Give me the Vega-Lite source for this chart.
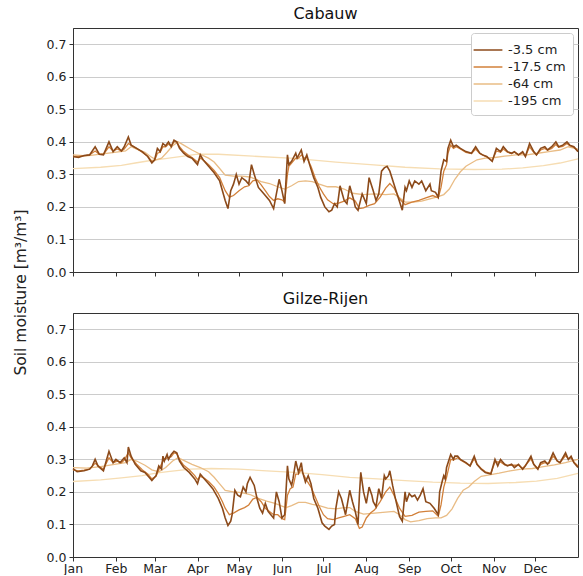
{
  "$schema": "https://vega.github.io/schema/vega-lite/v6.json",
  "autosize": {"type": "pad"},
  "padding": {"left": 12, "top": 5, "right": 5, "bottom": 0},
  "config": {
    "font": "DejaVu Sans",
    "view": {"stroke": "#333333", "strokeWidth": 1},
    "axis": {
      "labelFont": "DejaVu Sans", "labelFontSize": 12.5, "labelColor": "#222222", "labelFlush": false,
      "tickColor": "#333333", "domainColor": "#333333", "tickSize": 4, "labelPadding": 3,
      "titleFont": "DejaVu Sans", "titleFontWeight": "normal", "titleColor": "#222222"
    },
    "axisX": {"labelPadding": 1},
    "axisY": {"gridColor": "#cccccc", "gridWidth": 1},
    "title": {"font": "DejaVu Sans", "fontSize": 16, "fontWeight": "normal", "color": "#111111", "offset": 6},
    "legend": {
      "orient": "top-right", "offset": 5, "fillColor": "#ffffff", "strokeColor": "#cccccc",
      "cornerRadius": 3, "padding": 7, "labelFont": "DejaVu Sans", "labelFontSize": 13,
      "labelColor": "#222222", "symbolType": "M-1.6,0H1.6", "symbolSize": 324,
      "symbolStrokeWidth": 1.5, "rowPadding": 0, "labelOffset": 10
    }
  },
  "datasets": {
    "cabauw": [
      {"depth":"-3.5 cm","day":0,"sm":0.355},{"depth":"-3.5 cm","day":4,"sm":0.352},{"depth":"-3.5 cm","day":8,"sm":0.358},{"depth":"-3.5 cm","day":12,"sm":0.36},{"depth":"-3.5 cm","day":16,"sm":0.385},{"depth":"-3.5 cm","day":19,"sm":0.362},{"depth":"-3.5 cm","day":22,"sm":0.36},{"depth":"-3.5 cm","day":26,"sm":0.4},{"depth":"-3.5 cm","day":29,"sm":0.37},{"depth":"-3.5 cm","day":32,"sm":0.385},{"depth":"-3.5 cm","day":35,"sm":0.372},{"depth":"-3.5 cm","day":37,"sm":0.385},{"depth":"-3.5 cm","day":40,"sm":0.415},{"depth":"-3.5 cm","day":42,"sm":0.39},{"depth":"-3.5 cm","day":46,"sm":0.38},{"depth":"-3.5 cm","day":50,"sm":0.37},{"depth":"-3.5 cm","day":54,"sm":0.355},{"depth":"-3.5 cm","day":57,"sm":0.335},{"depth":"-3.5 cm","day":59,"sm":0.345},{"depth":"-3.5 cm","day":61,"sm":0.38},{"depth":"-3.5 cm","day":63,"sm":0.37},{"depth":"-3.5 cm","day":65,"sm":0.395},{"depth":"-3.5 cm","day":67,"sm":0.388},{"depth":"-3.5 cm","day":69,"sm":0.4},{"depth":"-3.5 cm","day":71,"sm":0.385},{"depth":"-3.5 cm","day":73,"sm":0.405},{"depth":"-3.5 cm","day":75,"sm":0.4},{"depth":"-3.5 cm","day":77,"sm":0.38},{"depth":"-3.5 cm","day":80,"sm":0.365},{"depth":"-3.5 cm","day":83,"sm":0.355},{"depth":"-3.5 cm","day":86,"sm":0.35},{"depth":"-3.5 cm","day":88,"sm":0.34},{"depth":"-3.5 cm","day":90,"sm":0.33},{"depth":"-3.5 cm","day":92,"sm":0.36},{"depth":"-3.5 cm","day":94,"sm":0.345},{"depth":"-3.5 cm","day":98,"sm":0.325},{"depth":"-3.5 cm","day":102,"sm":0.305},{"depth":"-3.5 cm","day":106,"sm":0.28},{"depth":"-3.5 cm","day":108,"sm":0.25},{"depth":"-3.5 cm","day":110,"sm":0.22},{"depth":"-3.5 cm","day":112,"sm":0.195},{"depth":"-3.5 cm","day":114,"sm":0.25},{"depth":"-3.5 cm","day":116,"sm":0.27},{"depth":"-3.5 cm","day":118,"sm":0.3},{"depth":"-3.5 cm","day":120,"sm":0.27},{"depth":"-3.5 cm","day":122,"sm":0.29},{"depth":"-3.5 cm","day":125,"sm":0.28},{"depth":"-3.5 cm","day":127,"sm":0.27},{"depth":"-3.5 cm","day":129,"sm":0.33},{"depth":"-3.5 cm","day":131,"sm":0.3},{"depth":"-3.5 cm","day":134,"sm":0.26},{"depth":"-3.5 cm","day":137,"sm":0.245},{"depth":"-3.5 cm","day":139,"sm":0.235},{"depth":"-3.5 cm","day":142,"sm":0.22},{"depth":"-3.5 cm","day":145,"sm":0.195},{"depth":"-3.5 cm","day":147,"sm":0.24},{"depth":"-3.5 cm","day":149,"sm":0.285},{"depth":"-3.5 cm","day":151,"sm":0.25},{"depth":"-3.5 cm","day":153,"sm":0.21},{"depth":"-3.5 cm","day":155,"sm":0.36},{"depth":"-3.5 cm","day":156,"sm":0.33},{"depth":"-3.5 cm","day":158,"sm":0.34},{"depth":"-3.5 cm","day":161,"sm":0.365},{"depth":"-3.5 cm","day":162,"sm":0.35},{"depth":"-3.5 cm","day":165,"sm":0.375},{"depth":"-3.5 cm","day":167,"sm":0.34},{"depth":"-3.5 cm","day":169,"sm":0.36},{"depth":"-3.5 cm","day":171,"sm":0.33},{"depth":"-3.5 cm","day":174,"sm":0.29},{"depth":"-3.5 cm","day":177,"sm":0.26},{"depth":"-3.5 cm","day":179,"sm":0.23},{"depth":"-3.5 cm","day":182,"sm":0.2},{"depth":"-3.5 cm","day":185,"sm":0.185},{"depth":"-3.5 cm","day":187,"sm":0.19},{"depth":"-3.5 cm","day":189,"sm":0.21},{"depth":"-3.5 cm","day":191,"sm":0.2},{"depth":"-3.5 cm","day":193,"sm":0.265},{"depth":"-3.5 cm","day":196,"sm":0.22},{"depth":"-3.5 cm","day":198,"sm":0.21},{"depth":"-3.5 cm","day":200,"sm":0.265},{"depth":"-3.5 cm","day":203,"sm":0.22},{"depth":"-3.5 cm","day":204,"sm":0.2},{"depth":"-3.5 cm","day":206,"sm":0.19},{"depth":"-3.5 cm","day":209,"sm":0.24},{"depth":"-3.5 cm","day":212,"sm":0.21},{"depth":"-3.5 cm","day":214,"sm":0.29},{"depth":"-3.5 cm","day":217,"sm":0.25},{"depth":"-3.5 cm","day":219,"sm":0.22},{"depth":"-3.5 cm","day":221,"sm":0.24},{"depth":"-3.5 cm","day":223,"sm":0.31},{"depth":"-3.5 cm","day":225,"sm":0.32},{"depth":"-3.5 cm","day":227,"sm":0.325},{"depth":"-3.5 cm","day":229,"sm":0.31},{"depth":"-3.5 cm","day":232,"sm":0.27},{"depth":"-3.5 cm","day":235,"sm":0.23},{"depth":"-3.5 cm","day":238,"sm":0.19},{"depth":"-3.5 cm","day":240,"sm":0.26},{"depth":"-3.5 cm","day":241,"sm":0.25},{"depth":"-3.5 cm","day":243,"sm":0.28},{"depth":"-3.5 cm","day":245,"sm":0.26},{"depth":"-3.5 cm","day":247,"sm":0.28},{"depth":"-3.5 cm","day":250,"sm":0.27},{"depth":"-3.5 cm","day":252,"sm":0.28},{"depth":"-3.5 cm","day":255,"sm":0.25},{"depth":"-3.5 cm","day":258,"sm":0.27},{"depth":"-3.5 cm","day":259,"sm":0.25},{"depth":"-3.5 cm","day":262,"sm":0.245},{"depth":"-3.5 cm","day":264,"sm":0.23},{"depth":"-3.5 cm","day":266,"sm":0.31},{"depth":"-3.5 cm","day":268,"sm":0.345},{"depth":"-3.5 cm","day":270,"sm":0.34},{"depth":"-3.5 cm","day":271,"sm":0.38},{"depth":"-3.5 cm","day":273,"sm":0.405},{"depth":"-3.5 cm","day":275,"sm":0.385},{"depth":"-3.5 cm","day":277,"sm":0.39},{"depth":"-3.5 cm","day":280,"sm":0.38},{"depth":"-3.5 cm","day":284,"sm":0.37},{"depth":"-3.5 cm","day":288,"sm":0.365},{"depth":"-3.5 cm","day":291,"sm":0.385},{"depth":"-3.5 cm","day":294,"sm":0.365},{"depth":"-3.5 cm","day":296,"sm":0.36},{"depth":"-3.5 cm","day":299,"sm":0.355},{"depth":"-3.5 cm","day":303,"sm":0.34},{"depth":"-3.5 cm","day":306,"sm":0.38},{"depth":"-3.5 cm","day":309,"sm":0.37},{"depth":"-3.5 cm","day":311,"sm":0.385},{"depth":"-3.5 cm","day":314,"sm":0.37},{"depth":"-3.5 cm","day":317,"sm":0.365},{"depth":"-3.5 cm","day":319,"sm":0.37},{"depth":"-3.5 cm","day":322,"sm":0.36},{"depth":"-3.5 cm","day":325,"sm":0.37},{"depth":"-3.5 cm","day":327,"sm":0.355},{"depth":"-3.5 cm","day":330,"sm":0.395},{"depth":"-3.5 cm","day":333,"sm":0.37},{"depth":"-3.5 cm","day":335,"sm":0.36},{"depth":"-3.5 cm","day":338,"sm":0.38},{"depth":"-3.5 cm","day":341,"sm":0.385},{"depth":"-3.5 cm","day":343,"sm":0.375},{"depth":"-3.5 cm","day":346,"sm":0.385},{"depth":"-3.5 cm","day":349,"sm":0.4},{"depth":"-3.5 cm","day":351,"sm":0.385},{"depth":"-3.5 cm","day":354,"sm":0.39},{"depth":"-3.5 cm","day":357,"sm":0.4},{"depth":"-3.5 cm","day":359,"sm":0.39},{"depth":"-3.5 cm","day":362,"sm":0.385},{"depth":"-3.5 cm","day":365,"sm":0.37},
      {"depth":"-17.5 cm","day":0,"sm":0.355},{"depth":"-17.5 cm","day":4,"sm":0.355},{"depth":"-17.5 cm","day":8,"sm":0.357},{"depth":"-17.5 cm","day":12,"sm":0.36},{"depth":"-17.5 cm","day":16,"sm":0.372},{"depth":"-17.5 cm","day":19,"sm":0.362},{"depth":"-17.5 cm","day":22,"sm":0.362},{"depth":"-17.5 cm","day":26,"sm":0.385},{"depth":"-17.5 cm","day":29,"sm":0.372},{"depth":"-17.5 cm","day":32,"sm":0.378},{"depth":"-17.5 cm","day":35,"sm":0.372},{"depth":"-17.5 cm","day":37,"sm":0.378},{"depth":"-17.5 cm","day":40,"sm":0.395},{"depth":"-17.5 cm","day":42,"sm":0.39},{"depth":"-17.5 cm","day":46,"sm":0.38},{"depth":"-17.5 cm","day":50,"sm":0.368},{"depth":"-17.5 cm","day":54,"sm":0.356},{"depth":"-17.5 cm","day":57,"sm":0.34},{"depth":"-17.5 cm","day":59,"sm":0.343},{"depth":"-17.5 cm","day":61,"sm":0.365},{"depth":"-17.5 cm","day":63,"sm":0.368},{"depth":"-17.5 cm","day":65,"sm":0.385},{"depth":"-17.5 cm","day":67,"sm":0.385},{"depth":"-17.5 cm","day":69,"sm":0.393},{"depth":"-17.5 cm","day":71,"sm":0.388},{"depth":"-17.5 cm","day":73,"sm":0.4},{"depth":"-17.5 cm","day":75,"sm":0.4},{"depth":"-17.5 cm","day":77,"sm":0.385},{"depth":"-17.5 cm","day":80,"sm":0.37},{"depth":"-17.5 cm","day":83,"sm":0.36},{"depth":"-17.5 cm","day":86,"sm":0.352},{"depth":"-17.5 cm","day":88,"sm":0.345},{"depth":"-17.5 cm","day":90,"sm":0.338},{"depth":"-17.5 cm","day":92,"sm":0.35},{"depth":"-17.5 cm","day":94,"sm":0.345},{"depth":"-17.5 cm","day":98,"sm":0.33},{"depth":"-17.5 cm","day":102,"sm":0.312},{"depth":"-17.5 cm","day":106,"sm":0.29},{"depth":"-17.5 cm","day":108,"sm":0.27},{"depth":"-17.5 cm","day":110,"sm":0.25},{"depth":"-17.5 cm","day":113,"sm":0.23},{"depth":"-17.5 cm","day":116,"sm":0.235},{"depth":"-17.5 cm","day":120,"sm":0.25},{"depth":"-17.5 cm","day":124,"sm":0.262},{"depth":"-17.5 cm","day":127,"sm":0.265},{"depth":"-17.5 cm","day":130,"sm":0.28},{"depth":"-17.5 cm","day":133,"sm":0.283},{"depth":"-17.5 cm","day":136,"sm":0.268},{"depth":"-17.5 cm","day":139,"sm":0.25},{"depth":"-17.5 cm","day":142,"sm":0.232},{"depth":"-17.5 cm","day":145,"sm":0.22},{"depth":"-17.5 cm","day":148,"sm":0.225},{"depth":"-17.5 cm","day":151,"sm":0.222},{"depth":"-17.5 cm","day":153,"sm":0.215},{"depth":"-17.5 cm","day":155,"sm":0.3},{"depth":"-17.5 cm","day":156,"sm":0.325},{"depth":"-17.5 cm","day":158,"sm":0.335},{"depth":"-17.5 cm","day":161,"sm":0.35},{"depth":"-17.5 cm","day":163,"sm":0.35},{"depth":"-17.5 cm","day":165,"sm":0.36},{"depth":"-17.5 cm","day":167,"sm":0.35},{"depth":"-17.5 cm","day":169,"sm":0.352},{"depth":"-17.5 cm","day":172,"sm":0.325},{"depth":"-17.5 cm","day":175,"sm":0.29},{"depth":"-17.5 cm","day":178,"sm":0.262},{"depth":"-17.5 cm","day":181,"sm":0.24},{"depth":"-17.5 cm","day":184,"sm":0.222},{"depth":"-17.5 cm","day":188,"sm":0.21},{"depth":"-17.5 cm","day":192,"sm":0.212},{"depth":"-17.5 cm","day":196,"sm":0.218},{"depth":"-17.5 cm","day":200,"sm":0.228},{"depth":"-17.5 cm","day":204,"sm":0.218},{"depth":"-17.5 cm","day":207,"sm":0.195},{"depth":"-17.5 cm","day":210,"sm":0.197},{"depth":"-17.5 cm","day":214,"sm":0.205},{"depth":"-17.5 cm","day":218,"sm":0.21},{"depth":"-17.5 cm","day":222,"sm":0.23},{"depth":"-17.5 cm","day":226,"sm":0.258},{"depth":"-17.5 cm","day":229,"sm":0.272},{"depth":"-17.5 cm","day":232,"sm":0.258},{"depth":"-17.5 cm","day":236,"sm":0.225},{"depth":"-17.5 cm","day":240,"sm":0.207},{"depth":"-17.5 cm","day":245,"sm":0.215},{"depth":"-17.5 cm","day":250,"sm":0.22},{"depth":"-17.5 cm","day":255,"sm":0.228},{"depth":"-17.5 cm","day":260,"sm":0.235},{"depth":"-17.5 cm","day":264,"sm":0.228},{"depth":"-17.5 cm","day":266,"sm":0.26},{"depth":"-17.5 cm","day":268,"sm":0.31},{"depth":"-17.5 cm","day":270,"sm":0.33},{"depth":"-17.5 cm","day":271,"sm":0.365},{"depth":"-17.5 cm","day":273,"sm":0.39},{"depth":"-17.5 cm","day":275,"sm":0.38},{"depth":"-17.5 cm","day":277,"sm":0.385},{"depth":"-17.5 cm","day":280,"sm":0.378},{"depth":"-17.5 cm","day":284,"sm":0.368},{"depth":"-17.5 cm","day":288,"sm":0.364},{"depth":"-17.5 cm","day":291,"sm":0.378},{"depth":"-17.5 cm","day":294,"sm":0.364},{"depth":"-17.5 cm","day":296,"sm":0.36},{"depth":"-17.5 cm","day":299,"sm":0.354},{"depth":"-17.5 cm","day":303,"sm":0.342},{"depth":"-17.5 cm","day":306,"sm":0.372},{"depth":"-17.5 cm","day":309,"sm":0.368},{"depth":"-17.5 cm","day":311,"sm":0.378},{"depth":"-17.5 cm","day":314,"sm":0.368},{"depth":"-17.5 cm","day":317,"sm":0.364},{"depth":"-17.5 cm","day":319,"sm":0.368},{"depth":"-17.5 cm","day":322,"sm":0.36},{"depth":"-17.5 cm","day":325,"sm":0.366},{"depth":"-17.5 cm","day":327,"sm":0.356},{"depth":"-17.5 cm","day":330,"sm":0.385},{"depth":"-17.5 cm","day":333,"sm":0.368},{"depth":"-17.5 cm","day":335,"sm":0.36},{"depth":"-17.5 cm","day":338,"sm":0.375},{"depth":"-17.5 cm","day":341,"sm":0.38},{"depth":"-17.5 cm","day":343,"sm":0.374},{"depth":"-17.5 cm","day":346,"sm":0.38},{"depth":"-17.5 cm","day":349,"sm":0.392},{"depth":"-17.5 cm","day":351,"sm":0.383},{"depth":"-17.5 cm","day":354,"sm":0.386},{"depth":"-17.5 cm","day":357,"sm":0.395},{"depth":"-17.5 cm","day":359,"sm":0.388},{"depth":"-17.5 cm","day":362,"sm":0.383},{"depth":"-17.5 cm","day":365,"sm":0.372},
      {"depth":"-64 cm","day":0,"sm":0.36},{"depth":"-64 cm","day":10,"sm":0.357},{"depth":"-64 cm","day":20,"sm":0.362},{"depth":"-64 cm","day":30,"sm":0.368},{"depth":"-64 cm","day":38,"sm":0.372},{"depth":"-64 cm","day":42,"sm":0.385},{"depth":"-64 cm","day":46,"sm":0.378},{"depth":"-64 cm","day":52,"sm":0.368},{"depth":"-64 cm","day":56,"sm":0.355},{"depth":"-64 cm","day":60,"sm":0.345},{"depth":"-64 cm","day":64,"sm":0.35},{"depth":"-64 cm","day":68,"sm":0.368},{"depth":"-64 cm","day":72,"sm":0.388},{"depth":"-64 cm","day":76,"sm":0.4},{"depth":"-64 cm","day":80,"sm":0.39},{"depth":"-64 cm","day":86,"sm":0.375},{"depth":"-64 cm","day":92,"sm":0.362},{"depth":"-64 cm","day":98,"sm":0.35},{"depth":"-64 cm","day":102,"sm":0.338},{"depth":"-64 cm","day":106,"sm":0.318},{"depth":"-64 cm","day":110,"sm":0.298},{"depth":"-64 cm","day":116,"sm":0.295},{"depth":"-64 cm","day":122,"sm":0.295},{"depth":"-64 cm","day":128,"sm":0.292},{"depth":"-64 cm","day":132,"sm":0.285},{"depth":"-64 cm","day":136,"sm":0.278},{"depth":"-64 cm","day":142,"sm":0.272},{"depth":"-64 cm","day":148,"sm":0.262},{"depth":"-64 cm","day":153,"sm":0.255},{"depth":"-64 cm","day":158,"sm":0.265},{"depth":"-64 cm","day":163,"sm":0.278},{"depth":"-64 cm","day":168,"sm":0.28},{"depth":"-64 cm","day":173,"sm":0.278},{"depth":"-64 cm","day":178,"sm":0.27},{"depth":"-64 cm","day":184,"sm":0.262},{"depth":"-64 cm","day":190,"sm":0.262},{"depth":"-64 cm","day":196,"sm":0.255},{"depth":"-64 cm","day":202,"sm":0.242},{"depth":"-64 cm","day":210,"sm":0.238},{"depth":"-64 cm","day":218,"sm":0.24},{"depth":"-64 cm","day":226,"sm":0.238},{"depth":"-64 cm","day":232,"sm":0.24},{"depth":"-64 cm","day":236,"sm":0.228},{"depth":"-64 cm","day":240,"sm":0.215},{"depth":"-64 cm","day":246,"sm":0.215},{"depth":"-64 cm","day":252,"sm":0.218},{"depth":"-64 cm","day":258,"sm":0.225},{"depth":"-64 cm","day":264,"sm":0.232},{"depth":"-64 cm","day":268,"sm":0.238},{"depth":"-64 cm","day":272,"sm":0.255},{"depth":"-64 cm","day":276,"sm":0.285},{"depth":"-64 cm","day":280,"sm":0.308},{"depth":"-64 cm","day":284,"sm":0.325},{"depth":"-64 cm","day":288,"sm":0.335},{"depth":"-64 cm","day":292,"sm":0.345},{"depth":"-64 cm","day":298,"sm":0.35},{"depth":"-64 cm","day":305,"sm":0.352},{"depth":"-64 cm","day":312,"sm":0.356},{"depth":"-64 cm","day":320,"sm":0.36},{"depth":"-64 cm","day":328,"sm":0.36},{"depth":"-64 cm","day":336,"sm":0.365},{"depth":"-64 cm","day":344,"sm":0.37},{"depth":"-64 cm","day":352,"sm":0.375},{"depth":"-64 cm","day":358,"sm":0.385},{"depth":"-64 cm","day":365,"sm":0.378},
      {"depth":"-195 cm","day":0,"sm":0.318},{"depth":"-195 cm","day":20,"sm":0.322},{"depth":"-195 cm","day":35,"sm":0.328},{"depth":"-195 cm","day":45,"sm":0.335},{"depth":"-195 cm","day":55,"sm":0.342},{"depth":"-195 cm","day":68,"sm":0.349},{"depth":"-195 cm","day":80,"sm":0.356},{"depth":"-195 cm","day":90,"sm":0.362},{"depth":"-195 cm","day":105,"sm":0.362},{"depth":"-195 cm","day":130,"sm":0.356},{"depth":"-195 cm","day":160,"sm":0.349},{"depth":"-195 cm","day":190,"sm":0.338},{"depth":"-195 cm","day":215,"sm":0.33},{"depth":"-195 cm","day":240,"sm":0.322},{"depth":"-195 cm","day":265,"sm":0.317},{"depth":"-195 cm","day":290,"sm":0.315},{"depth":"-195 cm","day":310,"sm":0.316},{"depth":"-195 cm","day":325,"sm":0.32},{"depth":"-195 cm","day":340,"sm":0.327},{"depth":"-195 cm","day":352,"sm":0.335},{"depth":"-195 cm","day":365,"sm":0.348}
    ],
    "gilze": [
      {"depth":"-3.5 cm","day":0,"sm":0.272},{"depth":"-3.5 cm","day":3,"sm":0.262},{"depth":"-3.5 cm","day":8,"sm":0.265},{"depth":"-3.5 cm","day":12,"sm":0.27},{"depth":"-3.5 cm","day":14,"sm":0.28},{"depth":"-3.5 cm","day":16,"sm":0.3},{"depth":"-3.5 cm","day":18,"sm":0.28},{"depth":"-3.5 cm","day":22,"sm":0.265},{"depth":"-3.5 cm","day":26,"sm":0.325},{"depth":"-3.5 cm","day":29,"sm":0.29},{"depth":"-3.5 cm","day":31,"sm":0.3},{"depth":"-3.5 cm","day":34,"sm":0.29},{"depth":"-3.5 cm","day":37,"sm":0.305},{"depth":"-3.5 cm","day":39,"sm":0.29},{"depth":"-3.5 cm","day":40,"sm":0.338},{"depth":"-3.5 cm","day":42,"sm":0.31},{"depth":"-3.5 cm","day":45,"sm":0.285},{"depth":"-3.5 cm","day":49,"sm":0.265},{"depth":"-3.5 cm","day":52,"sm":0.26},{"depth":"-3.5 cm","day":55,"sm":0.245},{"depth":"-3.5 cm","day":57,"sm":0.235},{"depth":"-3.5 cm","day":60,"sm":0.25},{"depth":"-3.5 cm","day":62,"sm":0.28},{"depth":"-3.5 cm","day":64,"sm":0.27},{"depth":"-3.5 cm","day":65,"sm":0.31},{"depth":"-3.5 cm","day":66,"sm":0.295},{"depth":"-3.5 cm","day":68,"sm":0.315},{"depth":"-3.5 cm","day":69,"sm":0.3},{"depth":"-3.5 cm","day":71,"sm":0.315},{"depth":"-3.5 cm","day":73,"sm":0.325},{"depth":"-3.5 cm","day":75,"sm":0.32},{"depth":"-3.5 cm","day":77,"sm":0.295},{"depth":"-3.5 cm","day":80,"sm":0.275},{"depth":"-3.5 cm","day":84,"sm":0.26},{"depth":"-3.5 cm","day":88,"sm":0.24},{"depth":"-3.5 cm","day":90,"sm":0.225},{"depth":"-3.5 cm","day":92,"sm":0.255},{"depth":"-3.5 cm","day":95,"sm":0.24},{"depth":"-3.5 cm","day":98,"sm":0.225},{"depth":"-3.5 cm","day":101,"sm":0.21},{"depth":"-3.5 cm","day":105,"sm":0.18},{"depth":"-3.5 cm","day":108,"sm":0.15},{"depth":"-3.5 cm","day":110,"sm":0.12},{"depth":"-3.5 cm","day":112,"sm":0.097},{"depth":"-3.5 cm","day":114,"sm":0.11},{"depth":"-3.5 cm","day":115,"sm":0.13},{"depth":"-3.5 cm","day":117,"sm":0.205},{"depth":"-3.5 cm","day":119,"sm":0.19},{"depth":"-3.5 cm","day":121,"sm":0.185},{"depth":"-3.5 cm","day":123,"sm":0.215},{"depth":"-3.5 cm","day":125,"sm":0.2},{"depth":"-3.5 cm","day":126,"sm":0.225},{"depth":"-3.5 cm","day":128,"sm":0.245},{"depth":"-3.5 cm","day":131,"sm":0.22},{"depth":"-3.5 cm","day":133,"sm":0.18},{"depth":"-3.5 cm","day":135,"sm":0.15},{"depth":"-3.5 cm","day":137,"sm":0.135},{"depth":"-3.5 cm","day":139,"sm":0.165},{"depth":"-3.5 cm","day":141,"sm":0.14},{"depth":"-3.5 cm","day":143,"sm":0.13},{"depth":"-3.5 cm","day":145,"sm":0.12},{"depth":"-3.5 cm","day":147,"sm":0.2},{"depth":"-3.5 cm","day":149,"sm":0.17},{"depth":"-3.5 cm","day":151,"sm":0.12},{"depth":"-3.5 cm","day":153,"sm":0.13},{"depth":"-3.5 cm","day":155,"sm":0.28},{"depth":"-3.5 cm","day":156,"sm":0.24},{"depth":"-3.5 cm","day":158,"sm":0.22},{"depth":"-3.5 cm","day":159,"sm":0.24},{"depth":"-3.5 cm","day":161,"sm":0.295},{"depth":"-3.5 cm","day":163,"sm":0.26},{"depth":"-3.5 cm","day":165,"sm":0.29},{"depth":"-3.5 cm","day":166,"sm":0.26},{"depth":"-3.5 cm","day":168,"sm":0.23},{"depth":"-3.5 cm","day":170,"sm":0.25},{"depth":"-3.5 cm","day":172,"sm":0.225},{"depth":"-3.5 cm","day":174,"sm":0.18},{"depth":"-3.5 cm","day":177,"sm":0.15},{"depth":"-3.5 cm","day":180,"sm":0.105},{"depth":"-3.5 cm","day":182,"sm":0.095},{"depth":"-3.5 cm","day":185,"sm":0.085},{"depth":"-3.5 cm","day":187,"sm":0.095},{"depth":"-3.5 cm","day":189,"sm":0.1},{"depth":"-3.5 cm","day":190,"sm":0.15},{"depth":"-3.5 cm","day":192,"sm":0.2},{"depth":"-3.5 cm","day":194,"sm":0.18},{"depth":"-3.5 cm","day":197,"sm":0.13},{"depth":"-3.5 cm","day":200,"sm":0.205},{"depth":"-3.5 cm","day":202,"sm":0.17},{"depth":"-3.5 cm","day":204,"sm":0.14},{"depth":"-3.5 cm","day":206,"sm":0.1},{"depth":"-3.5 cm","day":207,"sm":0.19},{"depth":"-3.5 cm","day":208,"sm":0.26},{"depth":"-3.5 cm","day":210,"sm":0.2},{"depth":"-3.5 cm","day":212,"sm":0.165},{"depth":"-3.5 cm","day":214,"sm":0.215},{"depth":"-3.5 cm","day":216,"sm":0.19},{"depth":"-3.5 cm","day":217,"sm":0.17},{"depth":"-3.5 cm","day":219,"sm":0.155},{"depth":"-3.5 cm","day":221,"sm":0.21},{"depth":"-3.5 cm","day":223,"sm":0.18},{"depth":"-3.5 cm","day":225,"sm":0.25},{"depth":"-3.5 cm","day":226,"sm":0.24},{"depth":"-3.5 cm","day":228,"sm":0.25},{"depth":"-3.5 cm","day":229,"sm":0.265},{"depth":"-3.5 cm","day":231,"sm":0.22},{"depth":"-3.5 cm","day":233,"sm":0.18},{"depth":"-3.5 cm","day":236,"sm":0.125},{"depth":"-3.5 cm","day":238,"sm":0.11},{"depth":"-3.5 cm","day":240,"sm":0.2},{"depth":"-3.5 cm","day":241,"sm":0.17},{"depth":"-3.5 cm","day":243,"sm":0.195},{"depth":"-3.5 cm","day":245,"sm":0.185},{"depth":"-3.5 cm","day":247,"sm":0.19},{"depth":"-3.5 cm","day":249,"sm":0.175},{"depth":"-3.5 cm","day":251,"sm":0.19},{"depth":"-3.5 cm","day":253,"sm":0.21},{"depth":"-3.5 cm","day":255,"sm":0.17},{"depth":"-3.5 cm","day":258,"sm":0.165},{"depth":"-3.5 cm","day":261,"sm":0.15},{"depth":"-3.5 cm","day":264,"sm":0.13},{"depth":"-3.5 cm","day":265,"sm":0.2},{"depth":"-3.5 cm","day":267,"sm":0.235},{"depth":"-3.5 cm","day":268,"sm":0.25},{"depth":"-3.5 cm","day":269,"sm":0.24},{"depth":"-3.5 cm","day":270,"sm":0.275},{"depth":"-3.5 cm","day":273,"sm":0.315},{"depth":"-3.5 cm","day":275,"sm":0.3},{"depth":"-3.5 cm","day":276,"sm":0.31},{"depth":"-3.5 cm","day":278,"sm":0.31},{"depth":"-3.5 cm","day":280,"sm":0.3},{"depth":"-3.5 cm","day":284,"sm":0.29},{"depth":"-3.5 cm","day":287,"sm":0.28},{"depth":"-3.5 cm","day":290,"sm":0.31},{"depth":"-3.5 cm","day":292,"sm":0.285},{"depth":"-3.5 cm","day":295,"sm":0.27},{"depth":"-3.5 cm","day":298,"sm":0.26},{"depth":"-3.5 cm","day":302,"sm":0.255},{"depth":"-3.5 cm","day":305,"sm":0.3},{"depth":"-3.5 cm","day":307,"sm":0.28},{"depth":"-3.5 cm","day":309,"sm":0.3},{"depth":"-3.5 cm","day":312,"sm":0.285},{"depth":"-3.5 cm","day":314,"sm":0.28},{"depth":"-3.5 cm","day":317,"sm":0.285},{"depth":"-3.5 cm","day":319,"sm":0.275},{"depth":"-3.5 cm","day":322,"sm":0.285},{"depth":"-3.5 cm","day":325,"sm":0.27},{"depth":"-3.5 cm","day":327,"sm":0.28},{"depth":"-3.5 cm","day":331,"sm":0.31},{"depth":"-3.5 cm","day":333,"sm":0.285},{"depth":"-3.5 cm","day":336,"sm":0.27},{"depth":"-3.5 cm","day":338,"sm":0.29},{"depth":"-3.5 cm","day":341,"sm":0.295},{"depth":"-3.5 cm","day":343,"sm":0.285},{"depth":"-3.5 cm","day":344,"sm":0.29},{"depth":"-3.5 cm","day":347,"sm":0.32},{"depth":"-3.5 cm","day":350,"sm":0.295},{"depth":"-3.5 cm","day":352,"sm":0.29},{"depth":"-3.5 cm","day":356,"sm":0.32},{"depth":"-3.5 cm","day":358,"sm":0.3},{"depth":"-3.5 cm","day":360,"sm":0.31},{"depth":"-3.5 cm","day":362,"sm":0.29},{"depth":"-3.5 cm","day":365,"sm":0.275},
      {"depth":"-17.5 cm","day":0,"sm":0.268},{"depth":"-17.5 cm","day":4,"sm":0.265},{"depth":"-17.5 cm","day":8,"sm":0.267},{"depth":"-17.5 cm","day":12,"sm":0.27},{"depth":"-17.5 cm","day":16,"sm":0.288},{"depth":"-17.5 cm","day":19,"sm":0.278},{"depth":"-17.5 cm","day":22,"sm":0.27},{"depth":"-17.5 cm","day":26,"sm":0.305},{"depth":"-17.5 cm","day":29,"sm":0.29},{"depth":"-17.5 cm","day":32,"sm":0.295},{"depth":"-17.5 cm","day":35,"sm":0.29},{"depth":"-17.5 cm","day":37,"sm":0.298},{"depth":"-17.5 cm","day":40,"sm":0.32},{"depth":"-17.5 cm","day":42,"sm":0.305},{"depth":"-17.5 cm","day":46,"sm":0.285},{"depth":"-17.5 cm","day":50,"sm":0.268},{"depth":"-17.5 cm","day":54,"sm":0.255},{"depth":"-17.5 cm","day":57,"sm":0.24},{"depth":"-17.5 cm","day":60,"sm":0.248},{"depth":"-17.5 cm","day":62,"sm":0.268},{"depth":"-17.5 cm","day":65,"sm":0.295},{"depth":"-17.5 cm","day":68,"sm":0.305},{"depth":"-17.5 cm","day":71,"sm":0.308},{"depth":"-17.5 cm","day":73,"sm":0.32},{"depth":"-17.5 cm","day":75,"sm":0.318},{"depth":"-17.5 cm","day":77,"sm":0.3},{"depth":"-17.5 cm","day":80,"sm":0.282},{"depth":"-17.5 cm","day":84,"sm":0.268},{"depth":"-17.5 cm","day":88,"sm":0.25},{"depth":"-17.5 cm","day":90,"sm":0.238},{"depth":"-17.5 cm","day":92,"sm":0.248},{"depth":"-17.5 cm","day":95,"sm":0.242},{"depth":"-17.5 cm","day":98,"sm":0.232},{"depth":"-17.5 cm","day":102,"sm":0.215},{"depth":"-17.5 cm","day":105,"sm":0.195},{"depth":"-17.5 cm","day":108,"sm":0.17},{"depth":"-17.5 cm","day":110,"sm":0.15},{"depth":"-17.5 cm","day":113,"sm":0.13},{"depth":"-17.5 cm","day":116,"sm":0.135},{"depth":"-17.5 cm","day":120,"sm":0.145},{"depth":"-17.5 cm","day":124,"sm":0.152},{"depth":"-17.5 cm","day":127,"sm":0.16},{"depth":"-17.5 cm","day":130,"sm":0.178},{"depth":"-17.5 cm","day":133,"sm":0.183},{"depth":"-17.5 cm","day":136,"sm":0.17},{"depth":"-17.5 cm","day":139,"sm":0.15},{"depth":"-17.5 cm","day":142,"sm":0.14},{"depth":"-17.5 cm","day":145,"sm":0.13},{"depth":"-17.5 cm","day":148,"sm":0.13},{"depth":"-17.5 cm","day":151,"sm":0.118},{"depth":"-17.5 cm","day":153,"sm":0.115},{"depth":"-17.5 cm","day":155,"sm":0.19},{"depth":"-17.5 cm","day":157,"sm":0.21},{"depth":"-17.5 cm","day":159,"sm":0.215},{"depth":"-17.5 cm","day":161,"sm":0.255},{"depth":"-17.5 cm","day":163,"sm":0.255},{"depth":"-17.5 cm","day":165,"sm":0.27},{"depth":"-17.5 cm","day":167,"sm":0.25},{"depth":"-17.5 cm","day":169,"sm":0.235},{"depth":"-17.5 cm","day":172,"sm":0.215},{"depth":"-17.5 cm","day":175,"sm":0.185},{"depth":"-17.5 cm","day":178,"sm":0.155},{"depth":"-17.5 cm","day":181,"sm":0.13},{"depth":"-17.5 cm","day":184,"sm":0.118},{"depth":"-17.5 cm","day":188,"sm":0.115},{"depth":"-17.5 cm","day":192,"sm":0.12},{"depth":"-17.5 cm","day":196,"sm":0.125},{"depth":"-17.5 cm","day":200,"sm":0.13},{"depth":"-17.5 cm","day":204,"sm":0.118},{"depth":"-17.5 cm","day":207,"sm":0.088},{"depth":"-17.5 cm","day":209,"sm":0.092},{"depth":"-17.5 cm","day":212,"sm":0.12},{"depth":"-17.5 cm","day":215,"sm":0.135},{"depth":"-17.5 cm","day":218,"sm":0.145},{"depth":"-17.5 cm","day":222,"sm":0.17},{"depth":"-17.5 cm","day":226,"sm":0.2},{"depth":"-17.5 cm","day":229,"sm":0.215},{"depth":"-17.5 cm","day":232,"sm":0.19},{"depth":"-17.5 cm","day":236,"sm":0.15},{"depth":"-17.5 cm","day":240,"sm":0.125},{"depth":"-17.5 cm","day":245,"sm":0.128},{"depth":"-17.5 cm","day":250,"sm":0.138},{"depth":"-17.5 cm","day":255,"sm":0.14},{"depth":"-17.5 cm","day":260,"sm":0.142},{"depth":"-17.5 cm","day":264,"sm":0.125},{"depth":"-17.5 cm","day":266,"sm":0.16},{"depth":"-17.5 cm","day":268,"sm":0.215},{"depth":"-17.5 cm","day":270,"sm":0.245},{"depth":"-17.5 cm","day":273,"sm":0.3},{"depth":"-17.5 cm","day":275,"sm":0.298},{"depth":"-17.5 cm","day":278,"sm":0.305},{"depth":"-17.5 cm","day":280,"sm":0.298},{"depth":"-17.5 cm","day":284,"sm":0.288},{"depth":"-17.5 cm","day":287,"sm":0.28},{"depth":"-17.5 cm","day":290,"sm":0.302},{"depth":"-17.5 cm","day":292,"sm":0.285},{"depth":"-17.5 cm","day":295,"sm":0.272},{"depth":"-17.5 cm","day":298,"sm":0.262},{"depth":"-17.5 cm","day":302,"sm":0.257},{"depth":"-17.5 cm","day":305,"sm":0.292},{"depth":"-17.5 cm","day":309,"sm":0.292},{"depth":"-17.5 cm","day":312,"sm":0.283},{"depth":"-17.5 cm","day":317,"sm":0.282},{"depth":"-17.5 cm","day":322,"sm":0.282},{"depth":"-17.5 cm","day":325,"sm":0.272},{"depth":"-17.5 cm","day":331,"sm":0.302},{"depth":"-17.5 cm","day":333,"sm":0.285},{"depth":"-17.5 cm","day":336,"sm":0.272},{"depth":"-17.5 cm","day":338,"sm":0.285},{"depth":"-17.5 cm","day":341,"sm":0.29},{"depth":"-17.5 cm","day":344,"sm":0.288},{"depth":"-17.5 cm","day":347,"sm":0.31},{"depth":"-17.5 cm","day":350,"sm":0.295},{"depth":"-17.5 cm","day":352,"sm":0.29},{"depth":"-17.5 cm","day":356,"sm":0.312},{"depth":"-17.5 cm","day":358,"sm":0.302},{"depth":"-17.5 cm","day":360,"sm":0.305},{"depth":"-17.5 cm","day":362,"sm":0.292},{"depth":"-17.5 cm","day":365,"sm":0.28},
      {"depth":"-64 cm","day":0,"sm":0.275},{"depth":"-64 cm","day":10,"sm":0.273},{"depth":"-64 cm","day":20,"sm":0.278},{"depth":"-64 cm","day":30,"sm":0.285},{"depth":"-64 cm","day":38,"sm":0.29},{"depth":"-64 cm","day":42,"sm":0.3},{"depth":"-64 cm","day":46,"sm":0.295},{"depth":"-64 cm","day":52,"sm":0.282},{"depth":"-64 cm","day":57,"sm":0.268},{"depth":"-64 cm","day":62,"sm":0.262},{"depth":"-64 cm","day":67,"sm":0.275},{"depth":"-64 cm","day":72,"sm":0.295},{"depth":"-64 cm","day":76,"sm":0.305},{"depth":"-64 cm","day":80,"sm":0.297},{"depth":"-64 cm","day":86,"sm":0.285},{"depth":"-64 cm","day":92,"sm":0.275},{"depth":"-64 cm","day":98,"sm":0.262},{"depth":"-64 cm","day":102,"sm":0.245},{"depth":"-64 cm","day":106,"sm":0.225},{"depth":"-64 cm","day":110,"sm":0.205},{"depth":"-64 cm","day":116,"sm":0.2},{"depth":"-64 cm","day":122,"sm":0.198},{"depth":"-64 cm","day":128,"sm":0.192},{"depth":"-64 cm","day":134,"sm":0.18},{"depth":"-64 cm","day":140,"sm":0.172},{"depth":"-64 cm","day":146,"sm":0.165},{"depth":"-64 cm","day":150,"sm":0.158},{"depth":"-64 cm","day":154,"sm":0.152},{"depth":"-64 cm","day":158,"sm":0.158},{"depth":"-64 cm","day":163,"sm":0.168},{"depth":"-64 cm","day":168,"sm":0.168},{"depth":"-64 cm","day":173,"sm":0.162},{"depth":"-64 cm","day":178,"sm":0.158},{"depth":"-64 cm","day":184,"sm":0.15},{"depth":"-64 cm","day":190,"sm":0.148},{"depth":"-64 cm","day":196,"sm":0.152},{"depth":"-64 cm","day":200,"sm":0.152},{"depth":"-64 cm","day":204,"sm":0.14},{"depth":"-64 cm","day":210,"sm":0.132},{"depth":"-64 cm","day":218,"sm":0.135},{"depth":"-64 cm","day":226,"sm":0.138},{"depth":"-64 cm","day":232,"sm":0.14},{"depth":"-64 cm","day":236,"sm":0.13},{"depth":"-64 cm","day":240,"sm":0.115},{"depth":"-64 cm","day":244,"sm":0.108},{"depth":"-64 cm","day":250,"sm":0.112},{"depth":"-64 cm","day":256,"sm":0.118},{"depth":"-64 cm","day":262,"sm":0.12},{"depth":"-64 cm","day":266,"sm":0.12},{"depth":"-64 cm","day":270,"sm":0.128},{"depth":"-64 cm","day":274,"sm":0.148},{"depth":"-64 cm","day":278,"sm":0.18},{"depth":"-64 cm","day":282,"sm":0.205},{"depth":"-64 cm","day":286,"sm":0.215},{"depth":"-64 cm","day":290,"sm":0.232},{"depth":"-64 cm","day":295,"sm":0.248},{"depth":"-64 cm","day":300,"sm":0.252},{"depth":"-64 cm","day":308,"sm":0.258},{"depth":"-64 cm","day":316,"sm":0.265},{"depth":"-64 cm","day":324,"sm":0.27},{"depth":"-64 cm","day":332,"sm":0.272},{"depth":"-64 cm","day":340,"sm":0.278},{"depth":"-64 cm","day":348,"sm":0.283},{"depth":"-64 cm","day":356,"sm":0.29},{"depth":"-64 cm","day":362,"sm":0.297},{"depth":"-64 cm","day":365,"sm":0.3},
      {"depth":"-195 cm","day":0,"sm":0.232},{"depth":"-195 cm","day":20,"sm":0.237},{"depth":"-195 cm","day":35,"sm":0.243},{"depth":"-195 cm","day":50,"sm":0.25},{"depth":"-195 cm","day":60,"sm":0.258},{"depth":"-195 cm","day":70,"sm":0.263},{"depth":"-195 cm","day":85,"sm":0.27},{"depth":"-195 cm","day":100,"sm":0.272},{"depth":"-195 cm","day":120,"sm":0.27},{"depth":"-195 cm","day":140,"sm":0.265},{"depth":"-195 cm","day":160,"sm":0.26},{"depth":"-195 cm","day":180,"sm":0.253},{"depth":"-195 cm","day":200,"sm":0.245},{"depth":"-195 cm","day":220,"sm":0.24},{"depth":"-195 cm","day":240,"sm":0.235},{"depth":"-195 cm","day":260,"sm":0.23},{"depth":"-195 cm","day":280,"sm":0.227},{"depth":"-195 cm","day":300,"sm":0.226},{"depth":"-195 cm","day":320,"sm":0.229},{"depth":"-195 cm","day":335,"sm":0.233},{"depth":"-195 cm","day":350,"sm":0.242},{"depth":"-195 cm","day":365,"sm":0.257}
    ]
  },
  "bounds": "flush",
  "spacing": 41,
  "resolve": {"scale": {"color": "independent"}},
  "vconcat": [
    {
      "title": "Cabauw",
      "width": 505,
      "height": 244,
      "data": {"name": "cabauw"},
      "encoding": {
        "x": {"field": "day", "type": "quantitative",
          "scale": {"domain": [0, 365], "nice": false, "zero": false},
          "axis": {"values": [0, 31, 59, 90, 120, 151, 181, 212, 243, 273, 304, 334], "labels": false, "grid": false, "title": null}},
        "y": {"field": "sm", "type": "quantitative",
          "scale": {"domain": [0, 0.75], "nice": false},
          "axis": {"values": [0, 0.1, 0.2, 0.3, 0.4, 0.5, 0.6, 0.7], "format": ".1f", "grid": true,
            "title": "Soil moisture [m³/m³]", "titleFontSize": 15.5, "titleX": -53, "titleY": 264,
            "titleAngle": 270, "titleAlign": "center", "titleBaseline": "middle"}},
        "color": {"field": "depth", "type": "nominal",
          "scale": {"domain": ["-3.5 cm", "-17.5 cm", "-64 cm", "-195 cm"], "range": ["#8c4a1a", "#d2803a", "#e9bc85", "#f6ddb3"]},
          "legend": {"title": null}}
      },
      "layer": [
        {"transform": [{"filter": "datum.depth === '-195 cm'"}], "mark": {"type": "line", "strokeWidth": 1.3}},
        {"transform": [{"filter": "datum.depth === '-64 cm'"}], "mark": {"type": "line", "strokeWidth": 1.3}},
        {"transform": [{"filter": "datum.depth === '-17.5 cm'"}], "mark": {"type": "line", "strokeWidth": 1.3}},
        {"transform": [{"filter": "datum.depth === '-3.5 cm'"}], "mark": {"type": "line", "strokeWidth": 1.6}}
      ]
    },
    {
      "title": "Gilze-Rijen",
      "width": 505,
      "height": 244,
      "data": {"name": "gilze"},
      "encoding": {
        "x": {"field": "day", "type": "quantitative",
          "scale": {"domain": [0, 365], "nice": false, "zero": false},
          "axis": {"values": [0, 31, 59, 90, 120, 151, 181, 212, 243, 273, 304, 334],
            "labelExpr": "timeFormat(datetime(2019, 0, 1 + datum.value), '%b')", "grid": false, "title": null}},
        "y": {"field": "sm", "type": "quantitative",
          "scale": {"domain": [0, 0.75], "nice": false},
          "axis": {"values": [0, 0.1, 0.2, 0.3, 0.4, 0.5, 0.6, 0.7], "format": ".1f", "grid": true, "title": null}},
        "color": {"field": "depth", "type": "nominal",
          "scale": {"domain": ["-3.5 cm", "-17.5 cm", "-64 cm", "-195 cm"], "range": ["#8c4a1a", "#d2803a", "#e9bc85", "#f6ddb3"]},
          "legend": null}
      },
      "layer": [
        {"transform": [{"filter": "datum.depth === '-195 cm'"}], "mark": {"type": "line", "strokeWidth": 1.3}},
        {"transform": [{"filter": "datum.depth === '-64 cm'"}], "mark": {"type": "line", "strokeWidth": 1.3}},
        {"transform": [{"filter": "datum.depth === '-17.5 cm'"}], "mark": {"type": "line", "strokeWidth": 1.3}},
        {"transform": [{"filter": "datum.depth === '-3.5 cm'"}], "mark": {"type": "line", "strokeWidth": 1.6}}
      ]
    }
  ]
}
